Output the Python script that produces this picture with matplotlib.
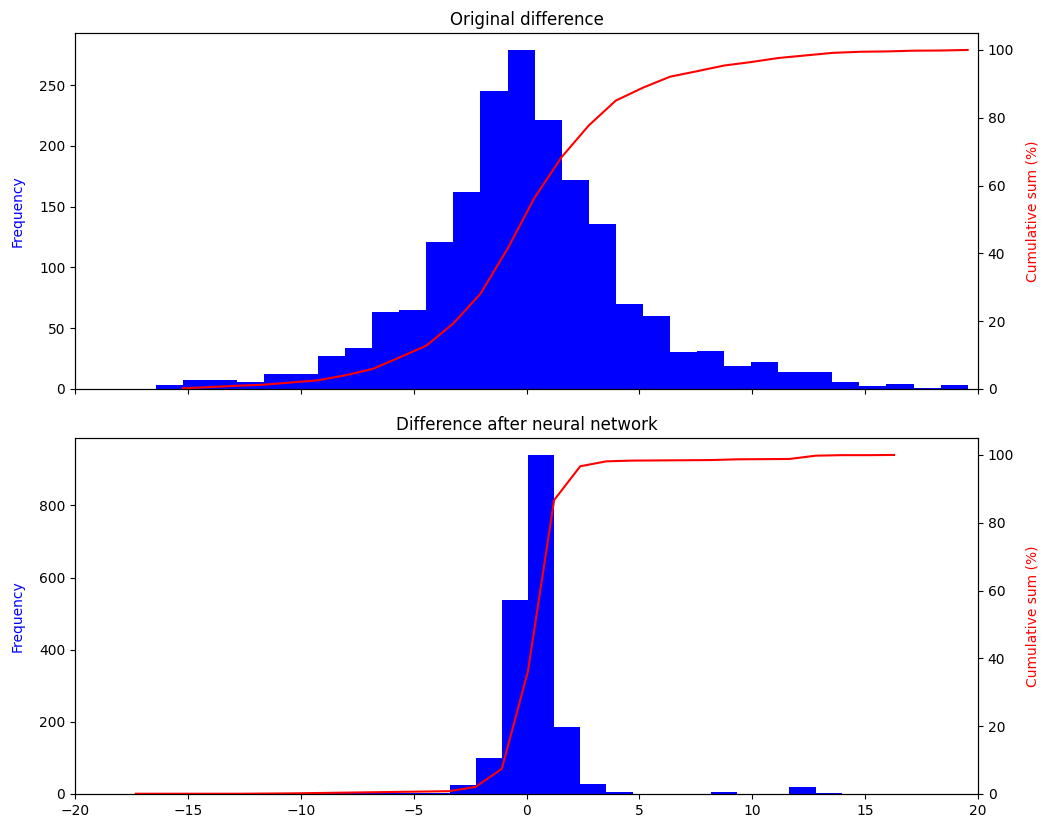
import numpy as np
import matplotlib
matplotlib.use("Agg")
import matplotlib.pyplot as plt

# histogram of the original difference (30 bins)
orig_lo, orig_hi = -16.43, 19.54
orig_counts = [3, 7, 7, 6, 12, 12, 27, 34, 63, 65,
               121, 162, 245, 279, 221, 172, 136, 70, 60, 30,
               31, 19, 22, 14, 14, 6, 2, 4, 1, 3]

# histogram after the neural network (30 bins)
nn_lo, nn_hi = -18.47, 16.28
nn_counts = [1, 0, 0, 0, 0, 1, 1, 2, 2, 2,
             2, 2, 2, 24, 99, 538, 940, 186, 27, 4,
             1, 1, 1, 4, 1, 1, 18, 3, 0, 1]

titles = ["Original difference", "Difference after neural network"]
xticks = [-20, -15, -10, -5, 0, 5, 10, 15, 20]

fig, axes = plt.subplots(2, 1, figsize=(10.43, 8.21), dpi=100, sharex=True)
fig.subplots_adjust(left=0.072, right=0.9377, top=0.9598, bottom=0.033, hspace=0.138)

for ax, lo, hi, counts, title in zip(axes, [orig_lo, nn_lo], [orig_hi, nn_hi],
                                      [orig_counts, nn_counts], titles):
    counts = np.array(counts, dtype=float)
    edges = np.linspace(lo, hi, len(counts) + 1)
    ax.hist(edges[:-1], bins=edges, weights=counts, color='b')
    ax.set_ylabel('Frequency', color='b', labelpad=10)
    ax.set_title(title)

    ax2 = ax.twinx()
    cum = np.cumsum(counts) / counts.sum() * 100
    ax2.plot(edges[1:], cum, color='r')
    ax2.set_ylabel('Cumulative sum (%)', color='r', labelpad=8)
    ax2.set_ylim(0, 105)

axes[1].set_xlim(-20, 20)
axes[1].set_xticks(xticks)

plt.savefig('out.png')
